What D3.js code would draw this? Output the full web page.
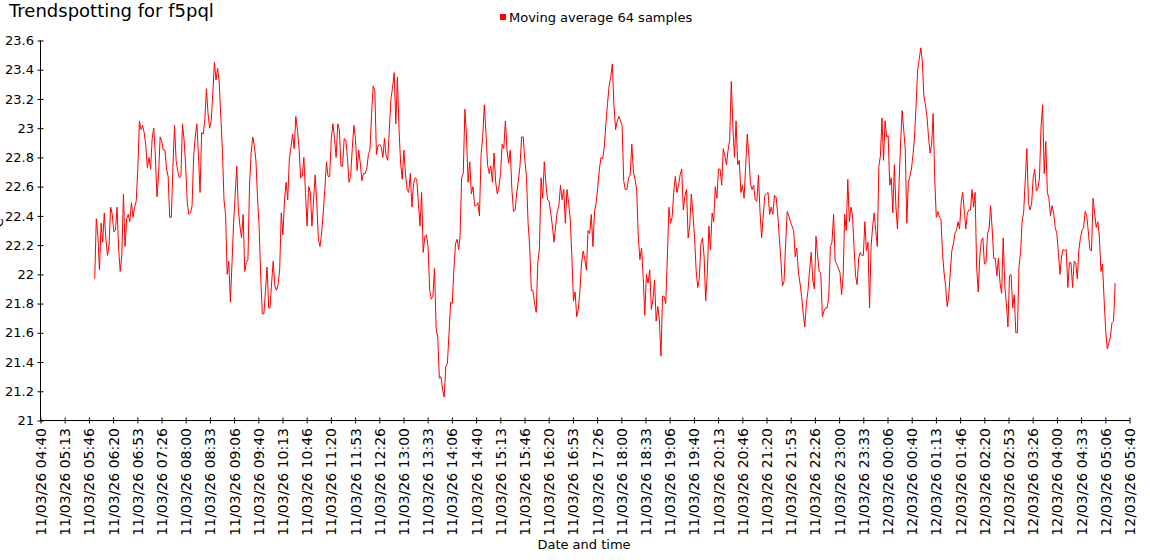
<!DOCTYPE html>
<html>
<head>
<meta charset="utf-8">
<script src="https://cdn.jsdelivr.net/npm/d3@7/dist/d3.min.js"></script>
<style>
  html, body { margin: 0; padding: 0; background: #fff; }
  svg { display: block; font-family: "DejaVu Sans", Verdana, sans-serif; }
</style>
</head>
<body>
<svg id="chart" width="1150" height="560"></svg>
<script>
// ---------------- data ----------------
const chartTitle = "Trendspotting for f5pql";
const seriesName = "Moving average 64 samples";
const xTitle = "Date and time";
const yTitle = "°C";

const xDomain = ["11/03/26 04:40:00", "12/03/26 05:40:00"];
const xTickCount = 46;
const yTicks = [21, 21.2, 21.4, 21.6, 21.8, 22, 22.2, 22.4, 22.6, 22.8, 23, 23.2, 23.4, 23.6];

// time span covered by each block of samples (samples evenly spaced inside a block)
const segStarts = ["11/03/26 05:54:40", "11/03/26 09:56:06", "11/03/26 14:17:51", "11/03/26 18:39:12", "11/03/26 23:01:18", "12/03/26 02:41:42"];
const segEnds   = ["11/03/26 09:54:18", "11/03/26 14:16:03", "11/03/26 18:36:48", "11/03/26 22:59:00", "12/03/26 02:39:24", "12/03/26 05:20:12"];

const seg1 = [21.97,22.38,22.26,22.03,22.35,22.22,22.42,22.24,22.13,22.20,22.46,22.41,22.29,22.30,22.46,22.17,22.02,22.13,22.55,22.19,22.38,22.41,22.36,22.49,22.39,22.46,22.50,22.72,23.05,22.99,23.02,22.97,22.88,22.73,22.80,22.72,22.93,23.00,22.81,22.53,22.68,22.94,22.91,22.85,22.85,22.72,22.67,22.39,22.39,22.73,23.02,22.78,22.71,22.66,22.67,23.03,22.92,22.74,22.49,22.41,22.42,22.47,22.81,22.94,23.03,22.81,22.56,22.97,22.96,23.06,23.27,23.10,23.00,23.05,23.24,23.45,23.33,23.41,23.32,23.08,22.85,22.51,22.41,22.00,22.09,21.81,22.07,22.35,22.54,22.74,22.44,22.33,22.25,22.41,22.02,22.08,22.10,22.61,22.83,22.94,22.88,22.78,22.53,22.33,21.99,21.73,21.73,21.89,22.05,21.77];
const seg2 = [21.77,21.94,22.09,21.92,21.89,21.93,22.03,22.42,22.27,22.51,22.63,22.51,22.79,22.87,22.96,22.86,23.08,22.99,22.87,22.66,22.67,22.80,22.56,22.33,22.60,22.56,22.33,22.50,22.68,22.49,22.24,22.19,22.28,22.42,22.58,22.77,22.67,22.67,22.93,23.03,22.93,22.80,23.03,22.99,22.74,22.74,22.93,22.92,22.80,22.63,22.67,22.86,23.02,22.93,22.71,22.85,22.76,22.64,22.69,22.69,22.72,22.82,22.85,23.10,23.29,23.25,22.82,22.88,22.89,22.87,22.80,22.93,22.81,22.78,22.99,23.20,23.28,23.38,23.03,23.35,22.99,22.76,22.65,22.85,22.69,22.58,22.56,22.69,22.46,22.62,22.66,22.65,22.49,22.33,22.56,22.15,22.26,22.27,22.19,21.89,21.83,21.85,22.04,21.63,21.57,21.29,21.30,21.21,21.16,21.37,21.39,21.60,21.81,21.80,22.03,22.21,22.24,22.17];
const seg3 = [22.26,22.66,22.69,23.13,22.94,22.63,22.77,22.55,22.60,22.47,22.47,22.49,22.40,22.82,22.94,23.16,22.97,22.75,22.69,22.74,22.63,22.83,22.63,22.55,22.60,22.69,22.89,22.86,23.05,22.85,22.76,22.85,22.58,22.43,22.44,22.56,22.64,22.74,22.94,22.94,22.78,22.67,22.35,22.19,21.89,21.89,21.80,21.74,22.08,22.18,22.66,22.52,22.77,22.62,22.51,22.50,22.42,22.33,22.22,22.33,22.43,22.47,22.61,22.51,22.58,22.35,22.58,22.49,22.38,22.12,21.82,21.88,21.71,21.76,21.89,22.08,22.16,22.10,22.03,22.30,22.28,22.41,22.19,22.43,22.49,22.60,22.72,22.80,22.79,22.87,23.03,23.17,23.29,23.35,23.44,23.15,22.99,23.05,23.08,23.05,23.02,22.64,22.58,22.58,22.66,22.68,22.89,22.70,22.65,22.58,22.26,22.10,22.18,21.99,21.72,22.00,21.94];
const seg4 = [22.03,21.76,21.83,21.96,21.68,21.78,21.69,21.44,21.85,21.85,21.80,22.11,22.46,22.35,22.39,22.56,22.67,22.56,22.61,22.68,22.72,22.44,22.54,22.58,22.25,22.33,22.55,22.42,22.26,22.03,21.91,21.97,22.21,22.25,22.12,21.82,22.01,22.33,22.17,22.42,22.36,22.60,22.52,22.72,22.72,22.61,22.86,22.81,22.75,22.85,22.92,23.32,23.01,22.80,23.05,22.75,22.78,22.56,22.61,22.52,22.74,22.96,22.81,22.62,22.58,22.61,22.51,22.50,22.68,22.42,22.25,22.40,22.54,22.55,22.56,22.41,22.46,22.41,22.54,22.53,22.42,22.26,22.10,21.92,21.95,22.21,22.43,22.40,22.36,22.33,22.30,22.12,22.18,22.01,21.94,21.85,21.73,21.64,21.80,21.89,22.03,22.15,21.96,21.90,22.26,22.13,22.02,22.01,21.71,21.75,21.77,21.77,21.85,22.19,22.22,22.41,22.09,22.07,22.04];
const seg5 = [22.01,21.86,21.99,22.41,22.30,22.65,22.36,22.46,22.41,22.19,21.99,21.93,22.11,22.15,22.13,22.13,22.36,22.16,22.22,21.77,22.19,22.33,22.42,22.30,22.19,22.74,22.81,23.07,22.78,23.05,22.94,22.95,22.61,22.66,22.42,22.75,22.46,22.31,22.62,22.90,23.12,22.99,22.86,22.35,22.63,22.67,22.72,22.82,22.94,23.16,23.40,23.47,23.55,23.46,23.22,23.16,23.08,22.94,22.83,22.89,23.10,22.65,22.39,22.43,22.39,22.38,22.15,22.01,21.92,21.78,21.85,22.01,22.16,22.21,22.28,22.30,22.36,22.31,22.49,22.56,22.44,22.31,22.42,22.44,22.44,22.58,22.46,22.56,22.05,21.88,22.12,22.23,22.25,22.07,22.08,22.28,22.31,22.47,22.31,22.11,22.11,21.99,22.11];
const seg6 = [21.94,21.87,22.25,21.92,21.80,21.64,21.99,22.00,21.77,21.86,21.60,21.60,22.05,22.15,22.36,22.43,22.65,22.86,22.49,22.44,22.48,22.66,22.72,22.57,22.59,22.66,23.01,23.16,22.69,22.91,22.56,22.52,22.40,22.47,22.42,22.32,22.28,22.15,22.00,22.12,22.17,22.16,22.17,21.91,22.08,22.08,21.91,22.09,22.08,21.97,22.17,22.25,22.30,22.32,22.43,22.40,22.29,22.17,22.16,22.52,22.42,22.32,22.36,22.26,22.02,22.07,21.83,21.62,21.49,21.53,21.57,21.67,21.68,21.94];

// ---------------- build ----------------
const parse = d3.timeParse("%d/%m/%y %H:%M:%S");
const fmt = d3.timeFormat("%d/%m/%y %H:%M");
const segs = [seg1, seg2, seg3, seg4, seg5, seg6];
const data = [];
segs.forEach((vals, k) => {
  const a = +parse(segStarts[k]), b = +parse(segEnds[k]);
  vals.forEach((v, i) => {
    data.push({ t: new Date(a + (b - a) * i / (vals.length - 1)), v: v });
  });
});

const svg = d3.select("#chart");
const x0 = parse(xDomain[0]), x1 = parse(xDomain[1]);
const x = d3.scaleTime().domain([x0, x1]).range([40.5, 1129.5]);
const y = d3.scaleLinear().domain([21, 23.6]).range([420.5, 40.5]);

const xTickVals = d3.range(xTickCount).map(i => new Date(+x0 + (x1 - x0) * i / (xTickCount - 1)));

// title
svg.append("text").attr("x", 9).attr("y", 17)
  .attr("font-size", 18).attr("fill", "#000").text(chartTitle);

// legend
svg.append("rect").attr("x", 500).attr("y", 14).attr("width", 6).attr("height", 6).attr("fill", "#ff0000");
svg.append("text").attr("x", 509).attr("y", 21.5).attr("font-size", 13).attr("fill", "#000").text(seriesName);

// y axis
const yAxis = d3.axisLeft(y).tickValues(yTicks).tickSize(3).tickPadding(3.5)
  .tickFormat(d => String(+d.toFixed(1)));
const gy = svg.append("g").attr("transform", "translate(40.5,0)").call(yAxis);
gy.select(".domain").attr("d", `M0,${y(21)}V${y(23.6)}`).attr("stroke", "#000");
gy.selectAll(".tick line").attr("x1", -3).attr("x2", 3).attr("stroke", "#000");
gy.selectAll(".tick text").attr("font-size", 13).attr("font-family", "DejaVu Sans").attr("fill", "#000");

// x axis
const xAxis = d3.axisBottom(x).tickValues(xTickVals).tickSize(3).tickFormat(fmt);
const gx = svg.append("g").attr("transform", "translate(0,420.5)").call(xAxis);
gx.select(".domain").attr("d", `M${x(x0)},0H${x(x1)}`).attr("stroke", "#000");
gx.selectAll(".tick line").attr("y1", -3).attr("y2", 3).attr("stroke", "#000");
gx.selectAll(".tick text")
  .attr("font-size", 14).attr("font-family", "DejaVu Sans").attr("fill", "#000")
  .attr("transform", "rotate(-90)")
  .attr("text-anchor", "end")
  .attr("x", -7.5).attr("y", 0).attr("dy", "0.36em");

// axis titles
svg.append("text").attr("x", 584).attr("y", 549).attr("text-anchor", "middle")
  .attr("font-size", 13).attr("fill", "#000").text(xTitle);
svg.append("text").attr("transform", "translate(3,226) rotate(-90)").attr("text-anchor", "middle")
  .attr("font-size", 13).attr("fill", "#000").text(yTitle);

// line
const line = d3.line().x(d => x(d.t)).y(d => y(d.v));
svg.append("path").datum(data)
  .attr("d", line)
  .attr("fill", "none")
  .attr("stroke", "#ff0000")
  .attr("stroke-width", 1)
  .attr("stroke-linejoin", "round");
</script>
</body>
</html>
